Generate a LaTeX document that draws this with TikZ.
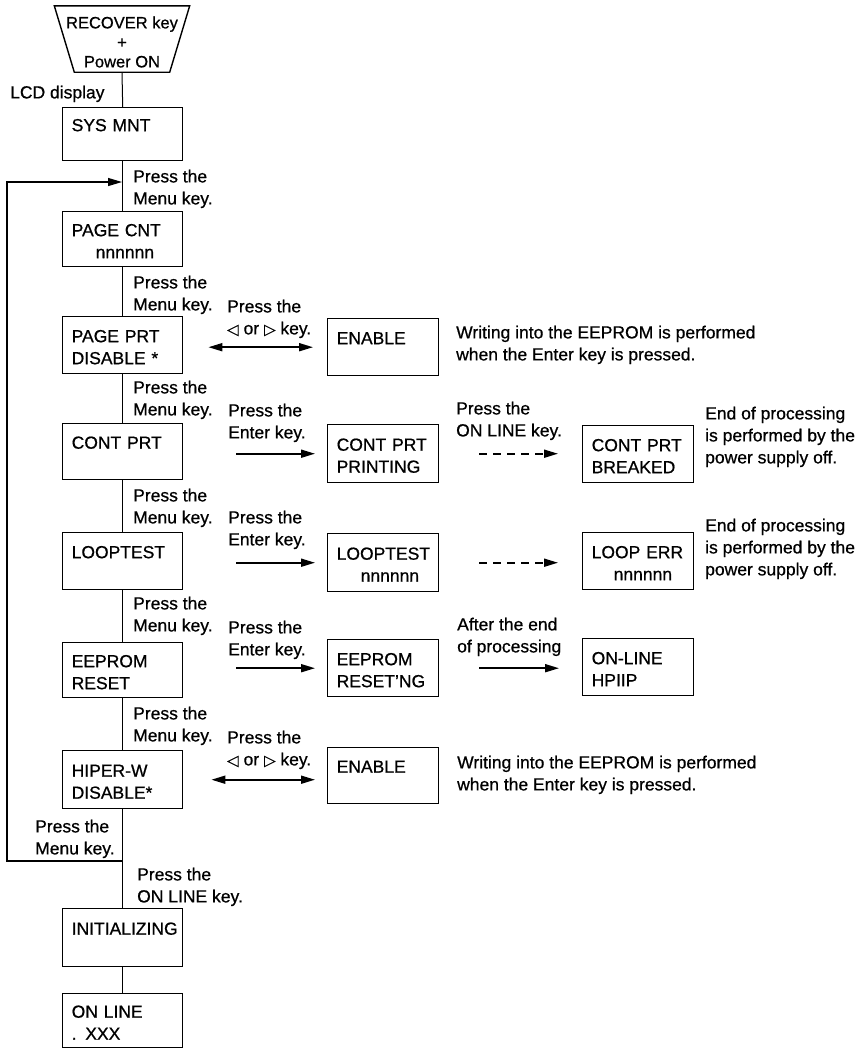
\documentclass[tikz,border=0pt]{standalone}
\usepackage{fontspec}
\setmainfont{Liberation Sans}[UprightFeatures={FakeBold=0.7}]
\newfontfamily\symfont{DejaVu Sans}[FakeBold=0.5]
\usetikzlibrary{arrows.meta}
\newcommand\bs{\rule[-2pt]{0pt}{20pt}}
\newcommand\ltri{{\symfont\fontsize{15}{15}\selectfont ◁}}
\newcommand\rtri{{\symfont\fontsize{15}{15}\selectfont ▷}}
\begin{document}
\begin{tikzpicture}[x=1pt,y=-1pt,
  every node/.style={font=\fontsize{17.5}{22}\selectfont},
  mbox/.style={draw, line width=1.4pt, anchor=north west, inner sep=0pt,
    minimum width=120pt, minimum height=#1, text width=102pt, align=left},
  sbox/.style={mbox=#1, minimum width=111pt, text width=93pt},
  lbl/.style={anchor=north west, inner sep=0pt, align=left},
  flow/.style={line width=1pt},
  arr/.style={line width=1.8pt, -{Triangle[length=14pt,width=8pt]}},
  darr/.style={line width=1.8pt, {Triangle[length=14pt,width=8pt]}-{Triangle[length=14pt,width=8pt]}},
  dasharr/.style={arr, dash pattern=on 8pt off 6pt}]
\useasboundingbox (0,0) rectangle (863,1050);

% start trapezoid
\node[minimum width=135pt, minimum height=66pt, inner sep=0pt, align=center,
  font=\fontsize{16.5}{19.5}\selectfont] (trap) at (122,42) {RECOVER key\\+\\Power ON};
\draw[line width=1.4pt] ([yshift=3pt]trap.north west) -- ([yshift=3pt]trap.north east)
  -- ([xshift=-20pt,yshift=3pt]trap.south east) -- ([xshift=20pt,yshift=3pt]trap.south west) -- cycle;

% main column boxes
\node[mbox=53pt] (sys)  at (62,107) {\bs SYS MNT\\\bs};
\node[mbox=55pt] (pcnt) at (62,211) {\bs PAGE CNT\\\bs\hspace*{24pt}nnnnnn};
\node[mbox=57pt] (pprt) at (62,316) {\bs PAGE PRT\\\bs DISABLE *};
\node[mbox=56pt] (cprt) at (62,423) {\bs CONT PRT\\\bs};
\node[mbox=57pt] (loop) at (62,532) {\bs LOOPTEST\\\bs};
\node[mbox=55pt] (eep)  at (62,642) {\bs EEPROM\\\bs RESET};
\node[mbox=58pt] (hip)  at (62,750) {\bs HIPER-W\\\bs DISABLE*};
\node[mbox=58pt] (init) at (62,908) {\bs INITIALIZING\\\bs};
\node[mbox=54pt] (onl)  at (62,993) {\bs ON LINE\\\bs . XXX};

% right column boxes
\node[sbox=57pt] (en1)  at (327,318) {\bs ENABLE\\\bs};
\node[sbox=58pt] (cpp)  at (327,424) {\bs CONT PRT\\\bs PRINTING};
\node[sbox=58pt] (ltn)  at (327,533) {\bs LOOPTEST\\\bs\hspace*{24pt}nnnnnn};
\node[sbox=57pt] (ern)  at (327,639) {\bs EEPROM\\\bs RESET'NG};
\node[sbox=56pt] (en2)  at (327,747) {\bs ENABLE\\\bs};
\node[sbox=57pt] (cpb)  at (582,425) {\bs CONT PRT\\\bs BREAKED};
\node[sbox=57pt] (lerr) at (582,532) {\bs LOOP ERR\\\bs\hspace*{22pt}nnnnnn};
\node[sbox=57pt] (olh)  at (582,638) {\bs ON-LINE\\\bs HPIIP};

% labels
\node[lbl] (lcd) at (10,85.5) {LCD display};
\node[lbl] (m1) at (133,169.5) {Press the\\Menu key.};
\node[lbl] (m2) at (133,275.5) {Press the\\Menu key.};
\node[lbl] (m3) at (133,380.5) {Press the\\Menu key.};
\node[lbl] (m4) at (133,488.5) {Press the\\Menu key.};
\node[lbl] (m5) at (133,596.5) {Press the\\Menu key.};
\node[lbl] (m6) at (133,706.5) {Press the\\Menu key.};
\node[lbl] (m7) at (35,819.5) {Press the\\Menu key.};
\node[lbl] (onk) at (137,867.5) {Press the\\ON LINE key.};
\node[lbl] (k1) at (227,299.5) {Press the\\\ltri{} or \rtri{} key.};
\node[lbl] (e1) at (228,403.5) {Press the\\Enter key.};
\node[lbl] (e2) at (228,510.5) {Press the\\Enter key.};
\node[lbl] (e3) at (228,620.5) {Press the\\Enter key.};
\node[lbl] (k2) at (227,730.5) {Press the\\\ltri{} or \rtri{} key.};
\node[lbl] (ol) at (456,401.5) {Press the\\ON LINE key.};
\node[lbl] (af) at (457,617.5) {After the end\\of processing};
\node[lbl] (end1) at (705,406.5) {End of processing\\is performed by the\\power supply off.};
\node[lbl] (end2) at (705,518.5) {End of processing\\is performed by the\\power supply off.};
\node[lbl] (w1) at (456,325.5) {Writing into the EEPROM is performed\\when the Enter key is pressed.};
\node[lbl] (w2) at (457,755.5) {Writing into the EEPROM is performed\\when the Enter key is pressed.};

% main flow line
\draw[flow] ([yshift=3pt]trap.south) -- (sys.north);
\draw[flow] (sys.south) -- (pcnt.north);
\draw[flow] (pcnt.south) -- (pprt.north);
\draw[flow] (pprt.south) -- (cprt.north);
\draw[flow] (cprt.south) -- (loop.north);
\draw[flow] (loop.south) -- (eep.north);
\draw[flow] (eep.south) -- (hip.north);
\draw[flow] (hip.south) -- (init.north);
\draw[flow] (init.south) -- (onl.north);

% loop back
\coordinate (lj) at (122,182);
\coordinate (lb) at (122,861);
\coordinate (lcb) at (7,861);
\coordinate (lct) at (7,182);
\draw[arr, line width=1.2pt] (lb) -- (lcb) -- (lct) -- (lj);

% horizontal arrows
\draw[darr, shorten <=25pt, shorten >=14pt] (pprt.east |- en1.west) -- (en1.west);
\draw[arr, shorten <=53pt, shorten >=12pt] (cprt.east |- cpp.west) -- (cpp.west);
\draw[dasharr, shorten <=40pt, shorten >=24pt] (cpp.east) -- (cpp.east -| cpb.west);
\draw[arr, shorten <=53pt, shorten >=12pt] (loop.east |- ltn.west) -- (ltn.west);
\draw[dasharr, shorten <=40pt, shorten >=24pt] (ltn.east) -- (ltn.east -| lerr.west);
\draw[arr, shorten <=53pt, shorten >=12pt] (eep.east |- ern.west) -- (ern.west);
\draw[arr, shorten <=40pt, shorten >=23pt] (ern.east) -- (ern.east -| olh.west);
\draw[darr, shorten <=28pt, shorten >=12pt] (hip.east) -- (hip.east -| en2.west);
\end{tikzpicture}
\end{document}
